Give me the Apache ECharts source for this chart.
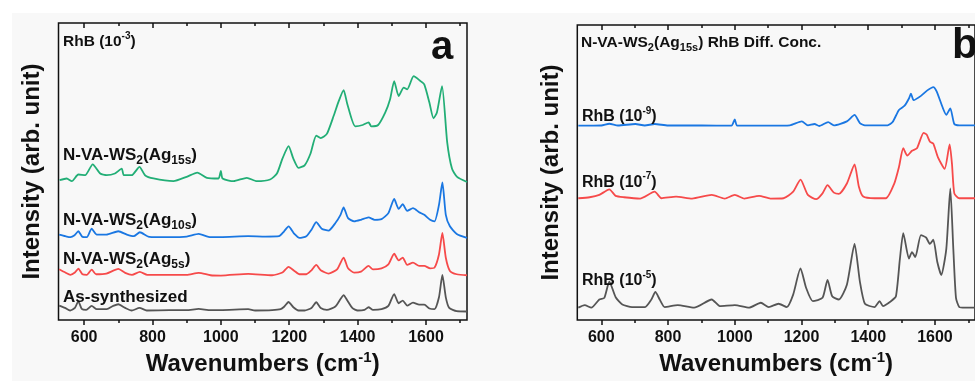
<!DOCTYPE html>
<html>
<head>
<meta charset="utf-8">
<script src="https://cdn.jsdelivr.net/npm/echarts@6/dist/echarts.min.js"></script>
<style>
  html, body { margin: 0; padding: 0; background: #fff; }
  #chart { width: 975px; height: 381px; }
</style>
</head>
<body>
<div id="chart"></div>
<script>
const FONT = '"Liberation Sans", Arial, sans-serif';

// x range (wavenumbers) of each panel
const A_X_MIN = 525;
const B_X_MIN = 528;
const X_MAX = 1720;
const MAJOR_TICKS = [600, 800, 1000, 1200, 1400, 1600];
const MINOR_TICKS = [700, 900, 1100, 1300, 1500, 1700];

// panel a: RhB 10^-3 on different substrates, [wavenumber, intensity]
const A_AS_SYNTH = [[527,14.7],[544,12.3],[559,9.7],[573,12.3],[583,19],[593,11.3],[606,10.3],[622,14.3],[637,11],[666,11],[685,14.3],[700,16],[720,12.3],[739,9.7],[762,12.3],[783,9.7],[850,10],[900,10],[935,11.3],[970,10],[1000,10],[1080,11],[1100,9.7],[1150,10],[1175,11],[1185,13.5],[1198,18.3],[1212,13],[1227,9.7],[1245,9.7],[1265,12.3],[1279,18],[1292,12.3],[1310,10.3],[1335,13.7],[1350,21.3],[1359,25.3],[1370,19.7],[1385,12],[1400,9.7],[1420,10.3],[1432,13],[1445,10.3],[1470,11],[1490,14.3],[1507,26.3],[1520,17],[1532,19.7],[1545,14.7],[1562,17.7],[1580,15.7],[1595,15.7],[1610,11.7],[1625,11],[1638,23],[1648,45.7],[1658,23],[1668,12.3],[1690,9],[1720,8.7]];
const A_AG5 = [[527,51.3],[545,48],[560,45.7],[573,48],[583,52],[595,46.3],[608,45.7],[622,51],[635,46.3],[665,47],[700,51.7],[720,47.7],[740,45.7],[763,48.7],[785,45.7],[850,45.7],[900,45.7],[935,47.7],[970,45.3],[1000,45],[1080,46.7],[1150,45.3],[1180,48],[1198,53.7],[1215,49.7],[1230,46.3],[1250,46.3],[1265,50.3],[1279,55.7],[1292,50.3],[1315,47],[1340,51.3],[1359,63],[1372,52.3],[1390,48],[1410,49],[1432,54.7],[1445,51.3],[1470,52.3],[1490,56.3],[1507,67],[1520,60.3],[1532,63],[1545,55.7],[1562,58],[1580,54.7],[1595,54.7],[1612,52.3],[1625,53],[1638,66.3],[1648,88],[1658,63],[1670,49.7],[1690,46.3],[1720,45.3]];
const A_AG10 = [[527,86.3],[545,84.7],[560,83.7],[572,85.7],[583,89.7],[595,84],[608,83.7],[622,92.3],[637,86.3],[665,86.3],[700,89.7],[725,86.3],[745,84.7],[763,88.7],[790,84],[850,83.7],[900,84.3],[935,87],[970,83.7],[1000,83.7],[1080,84.7],[1130,84.3],[1170,84.7],[1185,89.7],[1198,94.7],[1215,87],[1230,83],[1250,84.7],[1265,91.3],[1279,99],[1295,92.3],[1315,90.3],[1335,98],[1350,106.3],[1359,113.7],[1372,103],[1390,99.7],[1410,101.3],[1432,103.7],[1450,101.3],[1470,102],[1490,108],[1507,122.3],[1520,112.3],[1532,117],[1545,110.3],[1562,113],[1580,109],[1595,106.3],[1612,101.3],[1625,99.7],[1638,116.3],[1648,139],[1658,106.3],[1670,94.7],[1690,87],[1720,83]];
const A_AG15 = [[528,141.3],[549,143],[564,140.3],[583,147],[603,146.3],[625,157.3],[647,148],[666,146.3],[690,148],[710,153],[716,146.3],[739,146.3],[762,154.7],[778,146.3],[803,143],[861,140.3],[900,144.7],[931,149],[959,143.7],[993,143],[1000,150.7],[1005,143],[1037,140.3],[1076,143.7],[1105,140.3],[1144,142],[1164,148],[1180,163],[1198,175.7],[1212,163],[1227,153.7],[1245,156.3],[1262,168],[1279,186.3],[1292,183.7],[1310,188],[1330,206.3],[1345,221.3],[1359,232.3],[1370,218],[1393,195.7],[1415,197],[1432,199.7],[1440,195.7],[1460,197],[1481,209.7],[1495,223],[1507,241.3],[1520,226.3],[1535,234.7],[1545,233],[1564,246.3],[1584,241.3],[1595,238],[1610,219.7],[1622,203.7],[1632,209.7],[1647,236.3],[1662,179.7],[1676,153],[1691,144.7],[1720,139.5]];

// panel b: RhB at different concentrations on N-VA-WS2(Ag15s)
const B_1E5 = [[531,12.7],[550,15.3],[570,12.7],[594,21],[609,22.7],[624,39.3],[643,23.3],[663,16],[692,13.3],[731,13.3],[750,21],[762,28.7],[775,21],[790,13.3],[829,15.3],[878,12.7],[931,21],[955,14.3],[1000,15.3],[1043,12.7],[1078,17.7],[1102,13.3],[1131,16.7],[1156,13.3],[1175,26],[1197,52.7],[1214,32.7],[1234,19.3],[1263,22.7],[1278,41],[1292,24.3],[1312,21],[1336,36],[1359,77.7],[1375,39.3],[1390,16.7],[1419,13.3],[1434,19.3],[1444,14.3],[1468,19.3],[1483,24.3],[1495,62.7],[1505,88.7],[1522,62.7],[1531,69.3],[1541,64.3],[1558,86.7],[1573,84.3],[1585,77.7],[1595,82],[1607,59.3],[1619,46],[1634,72.7],[1646,134.3],[1655,72.7],[1663,22.7],[1673,13.3],[1690,12.7],[1720,12.7]];
const B_1E7 = [[531,124.3],[565,125.3],[594,127.7],[624,133.3],[643,126.7],[668,125.3],[716,124],[760,131],[780,124.3],[824,126],[872,124],[931,127.7],[970,124],[1000,127.7],[1029,124],[1073,126.7],[1107,124],[1146,124.3],[1175,131],[1197,143.3],[1219,127.7],[1244,123.3],[1263,129.3],[1278,137.7],[1297,130],[1312,128.7],[1336,139.3],[1359,158.7],[1372,136],[1385,126],[1419,124.3],[1453,124.3],[1478,139.3],[1492,156],[1505,175.3],[1517,167.7],[1531,172.7],[1546,175.3],[1566,191],[1575,189.3],[1585,182],[1595,180],[1609,166],[1629,154.3],[1644,179.3],[1651,159.3],[1658,129.3],[1673,124.3],[1720,124.3]];
const B_1E9 = [[531,198.3],[600,198.5],[624,200.3],[650,198.5],[702,200],[730,198.5],[760,200],[800,198.5],[900,198.5],[990,198.3],[1000,204.7],[1007,198.3],[1107,198.3],[1165,198.7],[1201,202.7],[1219,198.7],[1239,200],[1253,198],[1280,202],[1297,198.7],[1336,202.7],[1359,209.3],[1375,201],[1390,198.7],[1458,198.7],[1473,202],[1492,214.3],[1509,218.7],[1522,226],[1528,231],[1536,224.3],[1558,228.7],[1577,234.3],[1595,237.7],[1605,233.3],[1624,216],[1634,209.3],[1646,216],[1658,200],[1673,198.7],[1720,198.7]];

const GREEN = '#22ae76';
const BLUE = '#1a77e2';
const RED = '#f64a4a';
const GRAY = '#555555';

const supSub = (size) => ({
  b: { fontSize: size, fontWeight: 'bold', fontFamily: FONT, lineHeight: size + 6, fill: '#111', color: '#111' },
  sup: { fontSize: Math.round(size * 0.62), fontWeight: 'bold', fontFamily: FONT, lineHeight: Math.round(size * 0.62), verticalAlign: 'top', fill: '#111', color: '#111' },
  sub: { fontSize: Math.round(size * 0.68), fontWeight: 'bold', fontFamily: FONT, lineHeight: Math.round(size * 0.68), verticalAlign: 'bottom', fill: '#111', color: '#111' }
});

const label = (x, y, text, size) => ({
  type: 'text',
  x: x,
  y: y,
  z: 10,
  style: { text: text, rich: supSub(size), font: `bold ${size}px ${FONT}`, fill: '#111', verticalAlign: 'top' }
});

const WS2 = '{b|N-VA-WS}{sub|2}{b|(Ag}{sub|';

const xAxesFor = (grid, min, withName) => {
  const base = {
    type: 'value', gridIndex: grid, min: min, max: X_MAX,
    splitLine: { show: false }, axisLine: { show: false }
  };
  const tickStyle = { color: '#111', width: 1.5 };
  return [
    Object.assign({}, base, {
      position: 'bottom',
      axisTick: { show: true, inside: false, length: 5, lineStyle: tickStyle, customValues: MAJOR_TICKS },
      axisLabel: {
        show: true, customValues: MAJOR_TICKS, margin: 9,
        formatter: (v) => String(v),
        color: '#111', fontSize: 16, fontWeight: 'bold', fontFamily: FONT
      },
      name: withName ? '{t|Wavenumbers (cm}{s|-1}{t|)}' : '',
      nameLocation: 'middle',
      nameGap: 28,
      nameTextStyle: {
        rich: {
          t: { fontSize: 24, fontWeight: 'bold', fontFamily: FONT, color: '#111', lineHeight: 28 },
          s: { fontSize: 15, fontWeight: 'bold', fontFamily: FONT, color: '#111', lineHeight: 15, verticalAlign: 'top' }
        }
      }
    }),
    Object.assign({}, base, {
      position: 'bottom',
      axisTick: { show: true, inside: false, length: 3, lineStyle: tickStyle, customValues: MINOR_TICKS },
      axisLabel: { show: false }
    }),
    Object.assign({}, base, {
      position: 'top',
      axisTick: { show: true, inside: true, length: 5, lineStyle: tickStyle, customValues: MAJOR_TICKS },
      axisLabel: { show: false }
    }),
    Object.assign({}, base, {
      position: 'top',
      axisTick: { show: true, inside: true, length: 3, lineStyle: tickStyle, customValues: MINOR_TICKS },
      axisLabel: { show: false }
    })
  ];
};

const yAxisFor = (grid, max) => ({
  type: 'value', gridIndex: grid, min: 0, max: max,
  axisLine: { show: false }, axisTick: { show: false }, axisLabel: { show: false },
  splitLine: { show: false },
  name: 'Intensity (arb. unit)',
  nameLocation: 'middle',
  nameRotate: 90,
  nameGap: 14,
  nameTextStyle: { fontSize: 24, fontWeight: 'bold', fontFamily: FONT, color: '#111' }
});

const line = (data, color, xi, yi) => ({
  type: 'line',
  data: data,
  xAxisIndex: xi,
  yAxisIndex: yi,
  showSymbol: false,
  smooth: 0.2,
  animation: false,
  lineStyle: { color: color, width: 1.8 },
  itemStyle: { color: color }
});

const chart = echarts.init(document.getElementById('chart'), null, { renderer: 'canvas' });

chart.setOption({
  animation: false,
  backgroundColor: '#fff',
  grid: [
    { left: 58.5, top: 23, width: 408.5, height: 300, show: true, borderColor: '#111', borderWidth: 1.5, backgroundColor: 'transparent' },
    { left: 577.3, top: 25, width: 407, height: 301, show: true, borderColor: '#111', borderWidth: 1.5, backgroundColor: 'transparent' }
  ],
  xAxis: xAxesFor(0, A_X_MIN, true).concat(xAxesFor(1, B_X_MIN, true)),
  yAxis: [yAxisFor(0, 300), yAxisFor(1, 301)],
  series: [
    line(A_AS_SYNTH, GRAY, 0, 0),
    line(A_AG5, RED, 0, 0),
    line(A_AG10, BLUE, 0, 0),
    line(A_AG15, GREEN, 0, 0),
    line(B_1E5, GRAY, 4, 1),
    line(B_1E7, RED, 4, 1),
    line(B_1E9, BLUE, 4, 1)
  ],
  graphic: [
    { type: 'rect', z: -10, shape: { x: 12, y: 13, width: 963, height: 368 }, style: { fill: '#f8f8f8' } },
    label(63, 31, '{b|RhB (10}{sup|-3}{b|)}', 15.5),
    label(63, 144, WS2 + '15s}{b|)}', 17),
    label(63, 209, WS2 + '10s}{b|)}', 17),
    label(63, 248, WS2 + '5s}{b|)}', 17),
    label(63, 286, '{b|As-synthesized}', 17),
    { type: 'text', x: 431, y: 28, z: 10, style: { text: 'a', font: `bold 40px ${FONT}`, fill: '#111' } },
    label(581, 31.5, WS2 + '15s}{b|) RhB Diff. Conc.}', 15.5),
    label(582, 106, '{b|RhB (10}{sup|-9}{b|)}', 16),
    label(582, 171.5, '{b|RhB (10}{sup|-7}{b|)}', 16),
    label(582, 270, '{b|RhB (10}{sup|-5}{b|)}', 16),
    { type: 'text', x: 952, y: 25, z: 10, style: { text: 'b', font: `bold 42px ${FONT}`, fill: '#111' } }
  ]
});
</script>
</body>
</html>
